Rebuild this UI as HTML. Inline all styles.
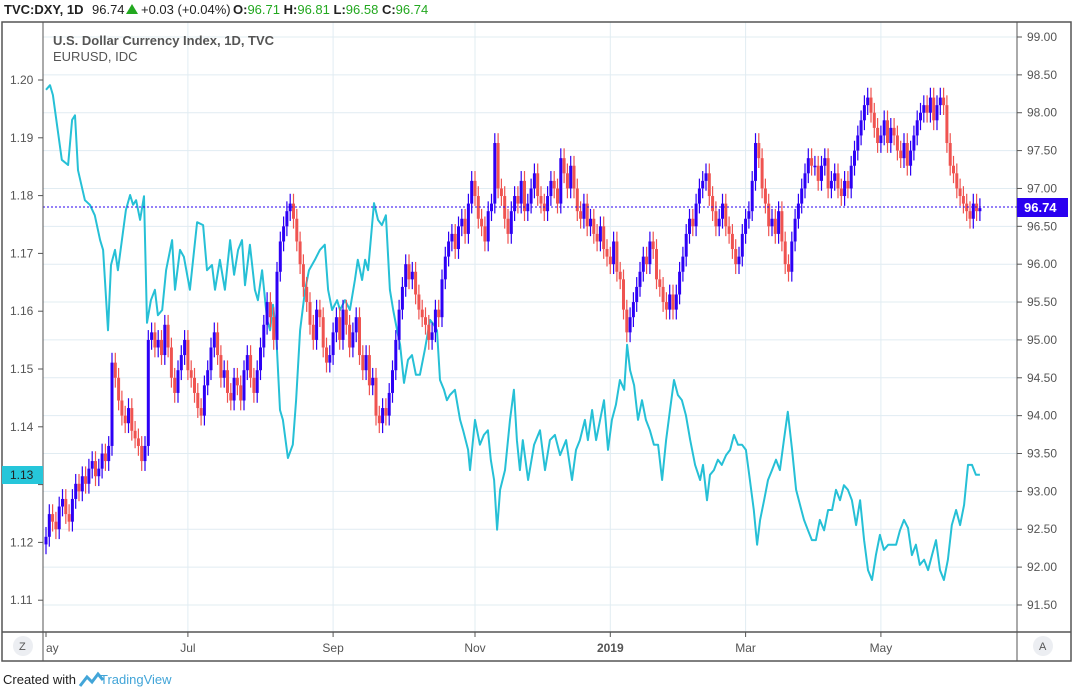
<!DOCTYPE html>
<html><head><meta charset="utf-8"><style>
body{margin:0;background:#fff;width:1076px;height:693px;overflow:hidden;font-family:"Liberation Sans",sans-serif}
svg{display:block}
</style></head><body>
<svg id="c" width="1076" height="693" xmlns="http://www.w3.org/2000/svg">
<g id="hdr" font-size="13" font-weight="bold" fill="#222">
<text x="4" y="14">TVC:DXY, 1D</text>
<text x="92" y="14" font-weight="normal">96.74</text>
<polygon points="126,14 132,4 138,14" fill="#22a81f"/>
<text x="141" y="14" font-weight="normal">+0.03 (+0.04%)</text>
<text x="233" y="14">O:<tspan fill="#22a81f" font-weight="normal">96.71</tspan> H:<tspan fill="#22a81f" font-weight="normal">96.81</tspan> L:<tspan fill="#22a81f" font-weight="normal">96.58</tspan> C:<tspan fill="#22a81f" font-weight="normal">96.74</tspan></text>
</g>
<g id="grid"></g>
<g id="eur"></g>
<g id="dxy"></g>
<line x1="43" x2="1017" y1="207" y2="207" stroke="#2a00f0" stroke-dasharray="2,2"/>
<rect x="2" y="22" width="1069" height="639" fill="none" stroke="#555" stroke-width="1.5"/>
<line x1="43" x2="43" y1="22" y2="661" stroke="#555"/>
<line x1="1017" x2="1017" y1="22" y2="661" stroke="#555"/>
<line x1="2" x2="1071" y1="632" y2="632" stroke="#555" stroke-width="1.5"/>
<g id="ry" font-size="12" fill="#555"></g>
<g id="ly" font-size="12" fill="#555"></g>
<g id="tx" font-size="12" fill="#555"></g>
<text x="53" y="45" font-size="13" font-weight="bold" fill="#555">U.S. Dollar Currency Index, 1D, TVC</text>
<text x="53" y="61" font-size="13" fill="#555">EURUSD, IDC</text>
<rect x="1017" y="198" width="51" height="19" fill="#2a00f0"/>
<text x="1024" y="212" font-size="13" font-weight="bold" fill="#fff">96.74</text>
<rect x="2" y="466" width="41" height="18" fill="#26c6da"/>
<text x="10" y="479" font-size="12" fill="#222">1.13</text>
<circle cx="23" cy="646" r="10" fill="#eceef2"/>
<text x="19" y="650" font-size="11" fill="#555">Z</text>
<circle cx="1043" cy="646" r="10" fill="#eceef2"/>
<text x="1039" y="650" font-size="11" fill="#555">A</text>
<text x="3" y="684" font-size="13" fill="#222">Created with</text>
<path d="M80,686 L87,677 L92,682 L98,674 L103,680" stroke="#42a5d8" stroke-width="3" fill="none"/>
<text x="100" y="684" font-size="13" fill="#42a5d8">TradingView</text>
</svg>
<script>
const dxyClose=[92.4,92.7,92.6,92.5,92.8,92.9,92.7,92.6,92.9,93.1,
93.0,93.2,93.1,93.3,93.4,93.2,93.3,93.5,93.4,93.6,
94.7,94.5,94.2,94.0,93.9,94.1,93.8,93.7,93.6,93.4,
93.6,95.0,95.1,94.9,95.0,94.8,95.2,94.9,94.5,94.3,
94.6,94.8,95.0,94.6,94.5,94.3,94.1,94.0,94.4,94.6,
94.9,95.1,94.8,94.5,94.6,94.3,94.2,94.5,94.4,94.2,
94.6,94.8,94.5,94.3,94.6,94.9,95.2,95.5,95.3,95.0,
95.9,96.3,96.5,96.7,96.8,96.6,96.3,96.0,95.7,95.5,
95.2,95.0,95.4,95.3,94.9,94.7,94.8,95.1,95.3,95.0,
95.4,95.2,94.9,95.1,95.3,94.8,94.6,94.8,94.4,94.5,
94.0,93.9,94.1,94.0,94.3,94.6,95.0,95.4,95.7,96.0,
95.8,95.9,95.6,95.4,95.3,95.2,95.0,95.1,95.4,95.3,
95.8,96.1,96.3,96.4,96.2,96.5,96.6,96.4,96.8,97.1,
96.9,96.6,96.5,96.3,96.7,96.8,97.6,97.0,96.9,96.6,
96.4,96.7,96.9,96.8,97.1,96.7,96.8,97.0,97.2,96.9,
96.8,96.7,96.9,97.1,97.0,96.8,97.4,97.2,97.0,97.3,
97.0,96.7,96.6,96.8,96.5,96.6,96.4,96.3,96.5,96.2,
96.1,96.0,96.3,95.9,95.8,95.4,95.1,95.3,95.5,95.7,
95.9,96.1,96.0,96.3,96.2,95.8,95.7,95.5,95.4,95.6,
95.4,95.6,95.9,96.1,96.4,96.6,96.5,96.8,97.0,97.1,
97.2,96.9,96.7,96.5,96.6,96.8,96.5,96.4,96.2,96.0,
96.1,96.4,96.6,96.7,97.1,97.6,97.4,97.0,96.8,96.5,
96.6,96.4,96.7,96.3,96.0,95.9,96.3,96.6,96.8,97.0,
97.2,97.4,97.3,97.3,97.1,97.3,97.4,97.0,97.1,97.2,
97.0,96.9,97.1,97.0,97.3,97.5,97.7,97.9,98.1,98.2,
98.0,97.8,97.6,97.7,97.9,97.6,97.8,97.7,97.5,97.4,
97.6,97.3,97.5,97.7,97.9,98.0,98.1,98.0,98.2,97.9,
98.1,98.2,98.1,97.6,97.3,97.2,97.0,96.9,96.8,96.7,
96.6,96.8,96.7,96.74];
const eurBar=[0,1.2,2.1,4.8,6.7,7.9,8.8,9.7,11.8,13.3,14.8,16.4,17.3,18.8,19.7,20.9,21.8,23.0,24.2,25.5,26.4,27.3,28.5,29.7,30.6,31.8,33.0,33.9,35.2,36.4,38.2,39.1,40.6,41.8,43.6,45.8,47.6,48.8,50.3,51.2,52.7,54.2,55.8,57.0,58.2,59.4,60.3,61.8,63.3,64.2,65.5,67.0,67.9,68.8,69.7,70.9,71.8,73.3,74.8,75.8,77.0,78.5,79.7,81.5,83.0,84.5,85.5,86.7,88.2,89.1,90.6,92.1,93.6,94.5,95.8,96.7,97.6,99.4,100.6,101.8,103.0,104.2,105.2,106.4,107.3,108.5,109.7,110.9,112.1,113.3,114.8,116.4,117.6,118.5,119.4,120.6,121.5,122.4,123.9,125.5,126.4,127.9,128.5,130.0,131.5,132.7,133.9,134.8,135.8,136.7,137.6,139.1,140.6,141.8,142.7,143.6,144.5,146.1,147.9,149.7,151.2,152.7,154.2,155.8,157.6,159.4,160.6,161.8,163.3,164.2,165.5,166.7,167.9,169.1,170.3,171.5,172.7,173.9,175.2,176.1,177.0,178.2,179.4,180.6,181.8,183.0,184.2,185.5,186.7,187.9,189.1,190.3,191.5,192.7,193.9,195.2,196.7,198.2,199.1,200.3,201.2,202.4,203.6,204.8,206.1,207.3,208.5,209.7,210.9,212.1,213.3,214.5,215.5,216.4,217.6,218.8,220.0,221.2,222.4,223.6,224.8,226.1,227.3,228.5,229.7,230.9,232.1,233.3,234.5,235.8,237.0,238.2,239.4,240.6,241.8,243.0,244.2,245.5,246.7,247.9,249.1,250.3,251.5,252.7,253.9,255.2,257.6,258.8,260.0,261.2,262.4,263.6,264.8,266.1,267.3,268.5,269.7,270.9,272.1,273.3,274.5,275.8,277.0,278.2,279.4,280.6,281.8,283.0];
const eurVal=[1.1983,1.1991,1.1974,1.1862,1.1853,1.1931,1.1939,1.1844,1.1792,1.1784,1.1766,1.1723,1.1706,1.1567,1.1680,1.1706,1.1671,1.1723,1.1775,1.1801,1.1784,1.1792,1.1758,1.1799,1.1580,1.1619,1.1637,1.1593,1.1602,1.1671,1.1723,1.1637,1.1706,1.1694,1.1637,1.1754,1.1749,1.1671,1.1680,1.1637,1.1689,1.1637,1.1723,1.1663,1.1706,1.1723,1.1645,1.1715,1.1637,1.1619,1.1671,1.1585,1.1567,1.1611,1.1567,1.1429,1.1412,1.1346,1.1369,1.1446,1.1567,1.1637,1.1671,1.1689,1.1706,1.1715,1.1637,1.1602,1.1619,1.1602,1.1619,1.1602,1.1654,1.1689,1.1654,1.1689,1.1671,1.1787,1.1758,1.1749,1.1766,1.1637,1.1602,1.1567,1.1542,1.1476,1.1516,1.1524,1.1490,1.1490,1.1533,1.1585,1.1576,1.1567,1.1481,1.1464,1.1446,1.1455,1.1464,1.1412,1.1394,1.1360,1.1325,1.1412,1.1369,1.1386,1.1394,1.1343,1.1308,1.1222,1.1291,1.1325,1.1412,1.1464,1.1377,1.1325,1.1377,1.1308,1.1369,1.1394,1.1325,1.1377,1.1386,1.1351,1.1377,1.1308,1.1360,1.1377,1.1412,1.1377,1.1429,1.1377,1.1412,1.1446,1.1360,1.1412,1.1438,1.1481,1.1464,1.1542,1.1498,1.1472,1.1412,1.1446,1.1412,1.1394,1.1369,1.1369,1.1308,1.1377,1.1429,1.1481,1.1455,1.1446,1.1420,1.1377,1.1334,1.1308,1.1334,1.1273,1.1317,1.1325,1.1343,1.1334,1.1351,1.1360,1.1386,1.1369,1.1369,1.1360,1.1308,1.1256,1.1196,1.1239,1.1273,1.1308,1.1325,1.1343,1.1325,1.1377,1.1426,1.1360,1.1291,1.1265,1.1239,1.1221,1.1204,1.1204,1.1239,1.1221,1.1256,1.1256,1.1291,1.1273,1.1299,1.1291,1.1273,1.1230,1.1273,1.1204,1.1152,1.1135,1.1178,1.1213,1.1187,1.1196,1.1196,1.1221,1.1239,1.1225,1.1178,1.1196,1.1161,1.1170,1.1152,1.1178,1.1204,1.1152,1.1135,1.1170,1.1230,1.1256,1.1230,1.1265,1.1334,1.1334,1.1317,1.1317];
const rightTicks=[99.0,98.5,98.0,97.5,97.0,96.5,96.0,95.5,95.0,94.5,94.0,93.5,93.0,92.5,92.0,91.5];
const leftTicks=[1.20,1.19,1.18,1.17,1.16,1.15,1.14,1.13,1.12,1.11];
const monthLabels=["ay","Jul","Sep","Nov","2019","Mar","May"];
const monthBars=[0,43,87,130,171,212,253];

const NS="http://www.w3.org/2000/svg";
const xOf=i=>46+i*3.3;
const yR=p=>37+(99-p)*75.73;
const yL=e=>80+(1.20-e)*5780;
function mk(tag,attrs,parent){const el=document.createElementNS(NS,tag);for(const k in attrs)el.setAttribute(k,attrs[k]);parent.appendChild(el);return el;}
const grid=document.getElementById('grid'),ry=document.getElementById('ry'),ly=document.getElementById('ly'),tx=document.getElementById('tx');
rightTicks.forEach(t=>{const y=yR(t);
 const g=mk('line',{x1:43,x2:1017,y1:y,y2:y,stroke:'#e1ecf2'},grid);
 
 
 const tk=mk('line',{x1:1017,x2:1022,y1:y,y2:y,stroke:'#555'},ry);
 
 
 const tt=mk('text',{x:1027,y:y+4},ry);tt.textContent=t.toFixed(2);
 
 });
leftTicks.forEach(t=>{const y=yL(t);
 const tk=mk('line',{x1:38,x2:43,y1:y,y2:y,stroke:'#555'},ly);
 
 
 if(Math.abs(t-1.13)<1e-6)return;
 const tt=mk('text',{x:10,y:y+4},ly);tt.textContent=t.toFixed(2);
 
 });
monthLabels.forEach((m,k)=>{const x=xOf(monthBars[k]);
 if(k>0){const g=mk('line',{x1:x,x2:x,y1:22,y2:632,stroke:'#e1ecf2'},grid);
 
 }
 const tk=mk('line',{x1:x,x2:x,y1:632,y2:637,stroke:'#555'},tx);
 
 
 const tt=mk('text',{x:x,y:652,'text-anchor':k==0?'start':'middle','font-weight':m=='2019'?'bold':'normal'},tx);tt.textContent=m;
 
 });
let d='';eurBar.forEach((b,i)=>{d+=(i?'L':'M')+xOf(b).toFixed(1)+','+yL(eurVal[i]).toFixed(1);});
const ln=mk('path',{d:d,fill:'none',stroke:'#26c0d6','stroke-width':2,'stroke-linejoin':'round'},document.getElementById('eur'));


const dg=document.getElementById('dxy');
dxyClose.forEach((c,i)=>{const o=i?dxyClose[i-1]:c-0.1;const up=c>=o;const col=up?'#2d00f5':'#ef5350';
 const x=xOf(i);const hi=Math.max(o,c)+0.13,lo=Math.min(o,c)-0.13;
 const w=mk('line',{x1:x,x2:x,y1:yR(hi),y2:yR(lo),stroke:col,'stroke-width':1.2},dg);
 
 
 const top=yR(Math.max(o,c)),bot=yR(Math.min(o,c));
 const r=mk('rect',{x:x-1.5,y:top,width:3,height:Math.max(1.5,bot-top),fill:col},dg);
 
 });
</script>
</body></html>
